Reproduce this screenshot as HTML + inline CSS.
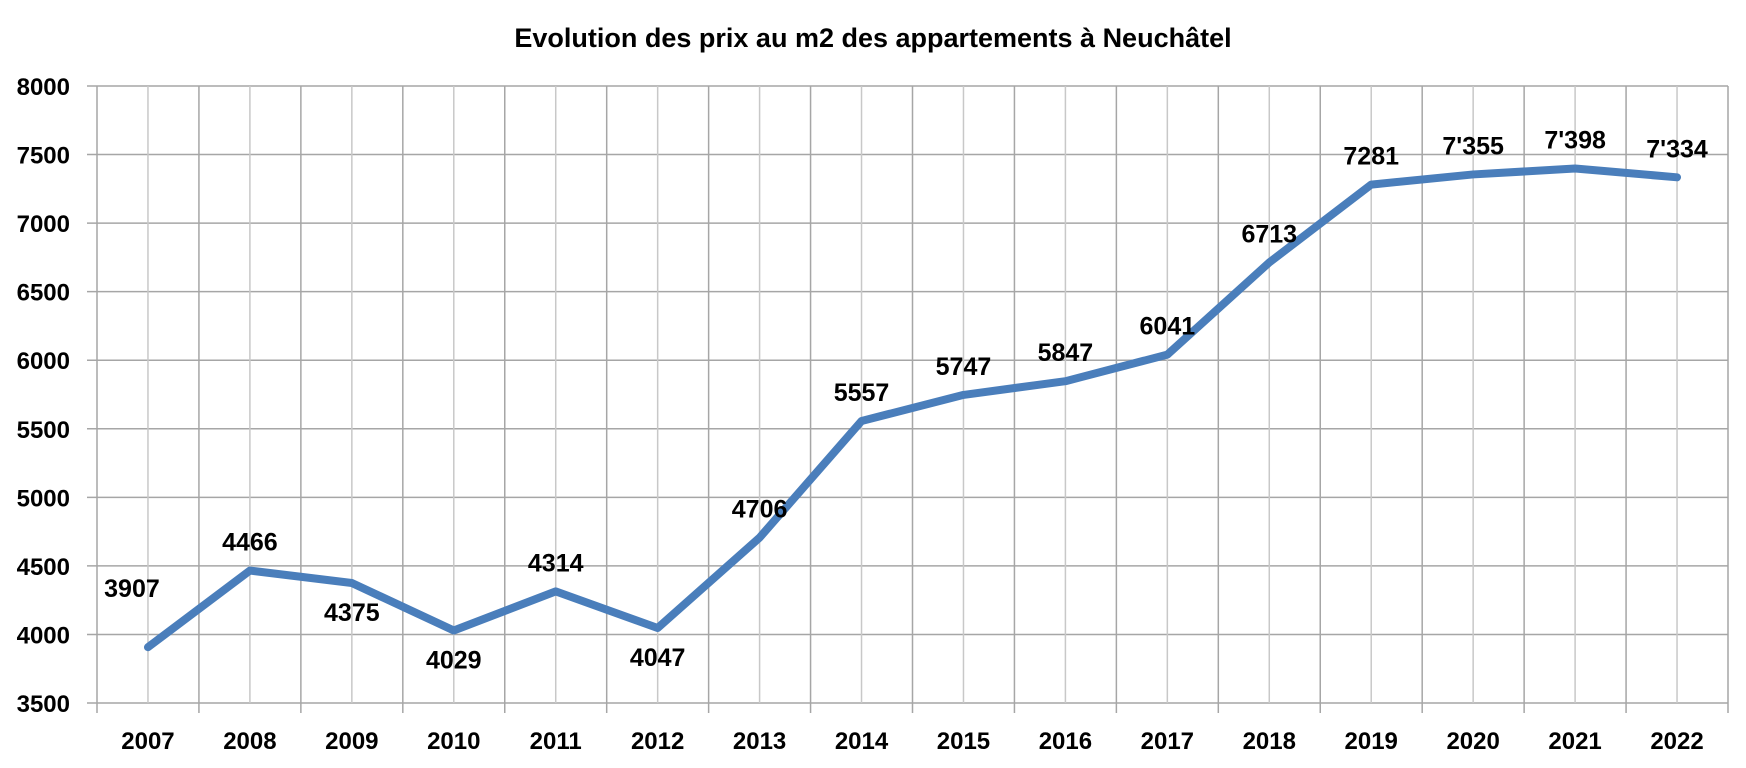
<!DOCTYPE html>
<html><head><meta charset="utf-8"><style>
body{margin:0;background:#fff}
svg{display:block;font-family:"Liberation Sans",sans-serif;font-weight:bold}
</style></head><body>
<svg id="chart" width="1746" height="768" viewBox="0 0 1746 768">
<text x="873" y="47" text-anchor="middle" font-size="27">Evolution des prix au m2 des appartements à Neuchâtel</text>
<g id="grid"></g><g id="axes"></g><g id="series"></g><g id="labels"></g>
</svg>
<script>
const years=["2007","2008","2009","2010","2011","2012","2013","2014","2015","2016","2017","2018","2019","2020","2021","2022"];
const prices=[3907,4466,4375,4029,4314,4047,4706,5557,5747,5847,6041,6713,7281,7355,7398,7334];
const priceLabels=["3907","4466","4375","4029","4314","4047","4706","5557","5747","5847","6041","6713","7281","7'355","7'398","7'334"];
const labelBelow=[false,false,true,true,false,true,false,false,false,false,false,false,false,false,false,false];
const yTicks=[3500,4000,4500,5000,5500,6000,6500,7000,7500,8000];
const L=97,R=1728,T=86,B=703,yMin=3500,yMax=8000;
const bw=(R-L)/years.length;
const x=i=>L+bw*(i+0.5);
const y=v=>B-(v-yMin)/(yMax-yMin)*(B-T);
const NS="http://www.w3.org/2000/svg";
function mk(tag,attrs,parent,txt){const e=document.createElementNS(NS,tag);for(const k in attrs)e.setAttribute(k,attrs[k]);if(txt!==undefined)e.textContent=txt;document.getElementById(parent).appendChild(e);return e;}
yTicks.forEach(t=>{
 const l=mk('line',{x1:L-10,x2:R,y1:y(t),y2:y(t),stroke:'#a6a6a6','stroke-width':1.5},'grid');
 
 
 const tx=mk('text',{x:70,y:y(t)+9,'text-anchor':'end','font-size':24},'axes',t);
 
 
});
for(let i=0;i<=years.length;i++){
 const gx=L+bw*i;
 const l=mk('line',{x1:gx,x2:gx,y1:T,y2:B+10,stroke:'#a6a6a6','stroke-width':1.5},'grid');
 
 
}
for(let i=0;i<years.length;i++){
 const gx=L+bw*(i+0.5);
 const l=mk('line',{x1:gx,x2:gx,y1:T,y2:B,stroke:'#c8c8c8','stroke-width':1.5},'grid');
 
 
}
years.forEach((yr,i)=>{
 const t=mk('text',{x:x(i),y:749,'text-anchor':'middle','font-size':24},'axes',yr);
 
 
});
const pts=prices.map((v,i)=>x(i)+','+y(v)).join(' ');
const pl=mk('polyline',{points:pts,fill:'none',stroke:'#4a7ebb','stroke-width':8,'stroke-linejoin':'round','stroke-linecap':'round'},'series');


prices.forEach((v,i)=>{
 const ly=labelBelow[i]?y(v)+38:y(v)-20;
 const t=mk('text',{x:x(i)-(i===0?16:0),y:ly-(i===0?30:0),'text-anchor':'middle','font-size':25},'labels',priceLabels[i]);
 
 
});
</script>
</body></html>
